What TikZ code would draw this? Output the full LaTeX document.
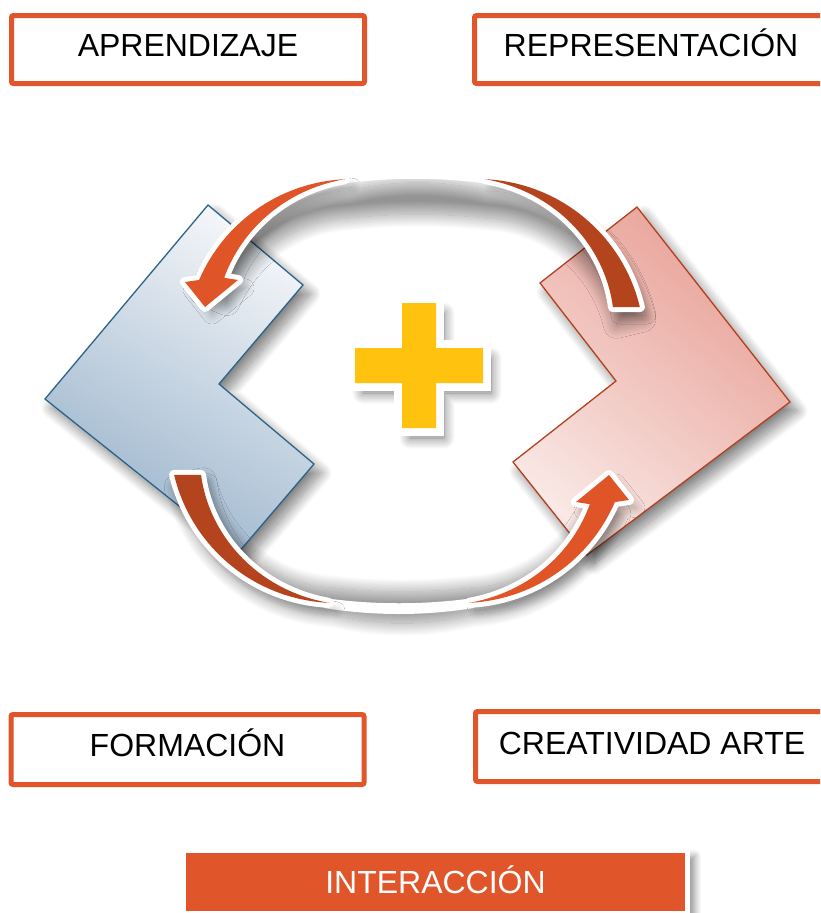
\documentclass[tikz,border=0pt]{standalone}
\usepackage{fontspec}
\setmainfont{Liberation Sans}
\usetikzlibrary{shadows.blur}
\definecolor{boxorange}{HTML}{E0552A}
\definecolor{arrowA}{HTML}{E05527}
\definecolor{arrowB}{HTML}{B3441E}
\definecolor{plusyellow}{HTML}{FFC20E}
\definecolor{blueline}{HTML}{2E6389}
\definecolor{bluelight}{HTML}{F3F5F8}
\definecolor{bluedark}{HTML}{9AB4CC}
\definecolor{pinkline}{HTML}{B3401F}
\definecolor{pinklight}{HTML}{F9E8E5}
\definecolor{pinkdark}{HTML}{E8A096}
\begin{document}
\begin{tikzpicture}[x=1pt,y=-1pt,
  labelbox/.style={draw=boxorange, line width=5pt, fill=white, rounded corners=2pt,
    minimum width=353pt, minimum height=68pt, inner sep=0pt,
    font=\fontsize{32}{38}\selectfont, text height=23pt, text depth=10pt},
  softshadow/.style={blur shadow={shadow xshift=7pt, shadow yshift=-8pt, shadow blur radius=9pt, shadow blur steps=12, shadow opacity=28}},
  chevshadow/.style={blur shadow={shadow xshift=7pt, shadow yshift=-9pt, shadow blur radius=11pt, shadow blur steps=20, shadow opacity=50}},
  ringshadow/.style={blur shadow={shadow xshift=3pt, shadow yshift=-12pt, shadow blur radius=13pt, shadow blur steps=25, shadow opacity=42}},
  whiteedge/.style={preaction={softshadow, draw=white, line width=10pt, line join=round}},
  chevblue/.style={chevshadow, draw=blueline, line width=1.3pt, top color=bluelight, bottom color=bluedark, shading angle=-30},
  chevpink/.style={chevshadow, draw=pinkline, line width=1.3pt, top color=pinkdark, bottom color=pinklight, shading angle=-40},
]
\useasboundingbox (0,0) rectangle (820,913);
\clip (0,0) rectangle (820,913);

% chevrons
\path[chevblue] (208,205) -- (303,285) -- (219,384) -- (314,464) -- (238,553) -- (45,399) -- cycle;
\path[chevpink] (637,207) -- (790,402) -- (587,555) -- (513,462) -- (616,381) -- (540,283) -- cycle;

% shadow of the upper half of the ring
\path[ringshadow]
  plot[domain=-156.7:-92.6, samples=30] ({352.5+167*cos(\x)},{346+167*sin(\x)})
  .. controls (390,168) and (440,168) .. (485.1,179.2)
  -- plot[domain=-87.4:-13.5, samples=30] ({477.5+167*cos(\x)},{346+167*sin(\x)})
  -- plot[domain=-13.5:-87.4, samples=30] ({477.5+140*cos(\x)},{346+140*sin(\x)})
  .. controls (440,201) and (390,201) .. (346.1,206.1)
  -- plot[domain=-92.6:-156.7, samples=30] ({352.5+140*cos(\x)},{346+140*sin(\x)})
  -- cycle;
% shadow of the lower half of the ring
\path[ringshadow]
  plot[domain=23.3:87.4, samples=30] ({461.5+167*cos(\x)},{436+167*sin(\x)})
  .. controls (424,614) and (374,614) .. (328.9,602.8)
  -- plot[domain=92.6:166.5, samples=30] ({336.5+167*cos(\x)},{436+167*sin(\x)})
  -- plot[domain=166.5:92.6, samples=30] ({336.5+140*cos(\x)},{436+140*sin(\x)})
  .. controls (374,581) and (424,581) .. (467.9,575.9)
  -- plot[domain=87.4:23.3, samples=30] ({461.5+140*cos(\x)},{436+140*sin(\x)})
  -- cycle;

% white ring bands
\path[fill=white] (340,184) .. controls (390,177) and (440,177) .. (490,184)
  -- (490,174) .. controls (440,166) and (390,166) .. (340,174) -- cycle;
\path[fill=white] (324,598) .. controls (374,605) and (424,605) .. (474,598)
  -- (474,608) .. controls (424,616) and (374,616) .. (324,608) -- cycle;

% arrow top-right (dark)
\path[whiteedge, fill=arrowB]
  plot[domain=-87.4:-13.5, samples=40] ({477.5+167*cos(\x)},{346+167*sin(\x)})
  -- plot[domain=-16:-87.4, samples=40] ({477.5+(167-27*(\x+87.4)/73.9)*cos(\x)},{346+(167-27*(\x+87.4)/73.9)*sin(\x)})
  -- cycle;
% arrow top-left (orange, head)
\path[whiteedge, fill=arrowA]
  plot[domain=-92.6:-156.7, samples=40] ({352.5+167*cos(\x)},{346+167*sin(\x)})
  -- (185,282) -- (205,307) -- (238,280)
  -- plot[domain=-152:-92.6, samples=40] ({352.5+(167-27*(-92.6-\x)/73.9)*cos(\x)},{346+(167-27*(-92.6-\x)/73.9)*sin(\x)})
  -- cycle;
% arrow bottom-left (dark)
\path[whiteedge, fill=arrowB]
  plot[domain=92.6:166.5, samples=40] ({336.5+167*cos(\x)},{436+167*sin(\x)})
  -- plot[domain=164:92.6, samples=40] ({336.5+(167-27*(\x-92.6)/73.9)*cos(\x)},{436+(167-27*(\x-92.6)/73.9)*sin(\x)})
  -- cycle;
% arrow bottom-right (orange, head)
\path[whiteedge, fill=arrowA]
  plot[domain=87.4:23.3, samples=40] ({461.5+167*cos(\x)},{436+167*sin(\x)})
  -- (629,500) -- (609,475) -- (576,502)
  -- plot[domain=28:87.4, samples=40] ({461.5+(167-27*(87.4-\x)/73.9)*cos(\x)},{436+(167-27*(87.4-\x)/73.9)*sin(\x)})
  -- cycle;

% plus sign
\path[preaction={blur shadow={shadow xshift=8pt, shadow yshift=-10pt, shadow blur radius=11pt, shadow blur steps=20, shadow opacity=55}, draw=white, line width=16pt, line join=miter},
  fill=plusyellow]
  (402,303) -- (436,303) -- (436,348) -- (483,348) -- (483,383) -- (436,383)
  -- (436,428) -- (402,428) -- (402,383) -- (355,383) -- (355,348) -- (402,348) -- cycle;

% label boxes
\node[labelbox] (aprendizaje) at (188,49.5) {APRENDIZAJE};
\node[labelbox] (representacion) at (651,49.5) {REPRESENTACIÓN};
\node[labelbox, minimum height=70pt] (formacion) at (187.5,749.5) {FORMACIÓN};
\node[labelbox, minimum height=70pt, text depth=7pt] (creatividad) at (652,746.5) {CREATIVIDAD ARTE};
\node[fill=boxorange, draw=white, line width=5pt, minimum width=504pt, minimum height=63pt, inner sep=0pt,
  text=white, font=\fontsize{32}{38}\selectfont, text height=23pt, text depth=0pt,
  blur shadow={shadow xshift=7pt, shadow yshift=-6pt, shadow blur radius=7pt, shadow blur steps=15, shadow opacity=45}]
  (interaccion) at (435.5,882) {INTERACCIÓN};
\end{tikzpicture}
\end{document}
